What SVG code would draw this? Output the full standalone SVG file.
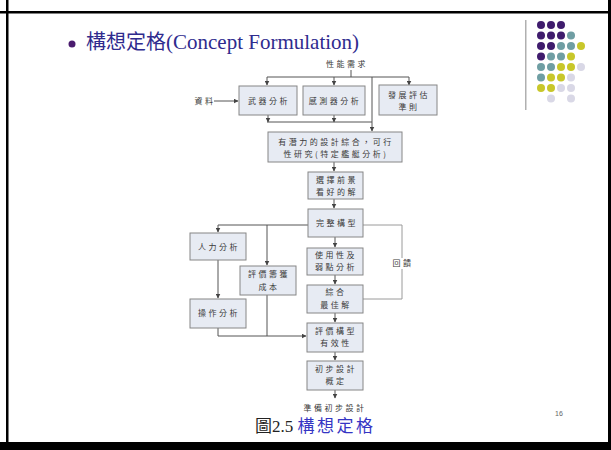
<svg xmlns="http://www.w3.org/2000/svg" width="611" height="450" viewBox="0 0 611 450">
<style>
.frame{fill:#000}
.b{fill:#e7ebf3;stroke:#868686;stroke-width:1}
.t{font-family:"Noto Sans CJK TC","Noto Sans CJK SC",sans-serif;font-size:8px;fill:#3a3a3a;text-anchor:middle;letter-spacing:2.5px}
.c{fill:none;stroke:#555;stroke-width:1}
.fb{fill:none;stroke:#9a9a9a;stroke-width:1}
.P{fill:#3f1c6d}.T{fill:#6f9ea3}.Y{fill:#c8c72a}.L{fill:#d9d8e6}
</style>
<defs>
<marker id="ar" markerWidth="5" markerHeight="5" refX="4.5" refY="2.5" orient="auto" markerUnits="userSpaceOnUse">
<path d="M0,0 L5,2.5 L0,5 Z" fill="#444"/>
</marker>
</defs>
<rect width="611" height="450" fill="#fff"/>
<!-- frame -->
<rect class="frame" x="0" y="11" width="611" height="2.5"/>
<rect class="frame" x="6" y="0" width="2.5" height="443"/>
<rect class="frame" x="608" y="0" width="3" height="443"/>
<rect class="frame" x="0" y="442" width="611" height="8"/>
<!-- title -->
<circle cx="72" cy="44" r="3.5" fill="#4a1b6e"/>
<text x="86" y="49" font-family="'Liberation Serif','Noto Sans CJK TC',serif" font-size="20" fill="#2f2b8e">構想定格<tspan font-size="21">(Concept Formulation)</tspan></text>
<!-- decoration -->
<rect x="525" y="20" width="1.5" height="90" fill="#b0b0b0"/>
<g id="dots">
<circle class="P" cx="541" cy="25" r="4"/><circle class="P" cx="551" cy="25" r="4"/><circle class="P" cx="561" cy="25" r="4"/>
<circle class="P" cx="541" cy="35.5" r="4"/><circle class="P" cx="551" cy="35.5" r="4"/><circle class="P" cx="561" cy="35.5" r="4"/><circle class="T" cx="571" cy="35.5" r="4"/>
<circle class="P" cx="541" cy="46" r="4"/><circle class="P" cx="551" cy="46" r="4"/><circle class="T" cx="561" cy="46" r="4"/><circle class="T" cx="571" cy="46" r="4"/><circle class="Y" cx="581" cy="46" r="4"/>
<circle class="P" cx="541" cy="56.5" r="4"/><circle class="T" cx="551" cy="56.5" r="4"/><circle class="T" cx="561" cy="56.5" r="4"/><circle class="Y" cx="571" cy="56.5" r="4"/>
<circle class="T" cx="541" cy="67" r="4"/><circle class="T" cx="551" cy="67" r="4"/><circle class="Y" cx="561" cy="67" r="4"/><circle class="Y" cx="571" cy="67" r="4"/><circle class="L" cx="581" cy="67" r="4"/>
<circle class="T" cx="541" cy="77.5" r="4"/><circle class="Y" cx="551" cy="77.5" r="4"/><circle class="Y" cx="561" cy="77.5" r="4"/><circle class="L" cx="571" cy="77.5" r="4"/>
<circle class="Y" cx="541" cy="88" r="4"/><circle class="Y" cx="551" cy="88" r="4"/><circle class="L" cx="561" cy="88" r="4"/><circle class="L" cx="571" cy="88" r="4"/>
<circle class="L" cx="551" cy="98.5" r="4"/><circle class="L" cx="571" cy="98.5" r="4"/>
</g>
<!-- connectors -->
<g id="connectors">
<path class="c" d="M351,70 V77 M267,77 H409"/>
<path class="c" d="M267,77 V85" marker-end="url(#ar)"/>
<path class="c" d="M334,77 V85" marker-end="url(#ar)"/>
<path class="c" d="M409,77 V85" marker-end="url(#ar)"/>
<path class="c" d="M372,77 V131" marker-end="url(#ar)"/>
<path class="c" d="M214,101 H238" marker-end="url(#ar)"/>
<path class="c" d="M268,115 V122" marker-end="url(#ar)"/>
<path class="c" d="M334,115 V122" marker-end="url(#ar)"/>
<path class="c" d="M267,122 H372"/>
<path class="c" d="M334,162 V171" marker-end="url(#ar)"/>
<path class="c" d="M334,199 V208" marker-end="url(#ar)"/>
<path class="c" d="M308,225 H218 V232" marker-end="url(#ar)"/>
<path class="c" d="M267,225 V265" marker-end="url(#ar)"/>
<path class="c" d="M218,260 V298" marker-end="url(#ar)"/>
<path class="c" d="M218,328 V336 H306" marker-end="url(#ar)"/>
<path class="c" d="M267,295 V336"/>
<path class="c" d="M335,237 V247" marker-end="url(#ar)"/>
<path class="c" d="M335,275 V284" marker-end="url(#ar)"/>
<path class="c" d="M335,313 V322" marker-end="url(#ar)"/>
<path class="c" d="M335,352 V360" marker-end="url(#ar)"/>
<path class="c" d="M335,390 V398" marker-end="url(#ar)"/>
<path class="fb" d="M363,299 H402 V225 H363"/>
</g>
<!-- nodes -->
<g id="n_perf"><text class="t" x="347" y="67">性能需求</text></g>
<g id="n_data"><text class="t" x="205" y="104">資料</text></g>
<g id="n_weapon"><rect class="b" x="239" y="86" width="58" height="29"/><text class="t" x="269" y="104">武器分析</text></g>
<g id="n_sensor"><rect class="b" x="303" y="86" width="62" height="29"/><text class="t" x="335" y="104">感測器分析</text></g>
<g id="n_criteria"><rect class="b" x="379" y="85" width="58" height="30"/><text class="t" x="409" y="98">發展評估</text><text class="t" x="409" y="110">準則</text></g>
<g id="n_synth"><rect class="b" x="268" y="132" width="134" height="30"/><text class="t" x="336" y="145">有潛力的設計綜合，可行</text><text class="t" x="336" y="157">性研究(特定艦艇分析)</text></g>
<g id="n_select"><rect class="b" x="308" y="172" width="55" height="27"/><text class="t" x="337" y="183">選擇前景</text><text class="t" x="337" y="195">看好的解</text></g>
<g id="n_full"><rect class="b" x="308" y="209" width="55" height="28"/><text class="t" x="337" y="226">完整構型</text></g>
<g id="n_man"><rect class="b" x="190" y="233" width="56" height="27"/><text class="t" x="219" y="250">人力分析</text></g>
<g id="n_cost"><rect class="b" x="240" y="266" width="56" height="29"/><text class="t" x="269" y="277">評價籌獲</text><text class="t" x="269" y="290">成本</text></g>
<g id="n_op"><rect class="b" x="190" y="299" width="56" height="29"/><text class="t" x="219" y="316">操作分析</text></g>
<g id="n_use"><rect class="b" x="307" y="248" width="56" height="27"/><text class="t" x="336" y="258">使用性及</text><text class="t" x="336" y="270">弱點分析</text></g>
<g id="n_best"><rect class="b" x="307" y="285" width="56" height="28"/><text class="t" x="336" y="295">綜合</text><text class="t" x="336" y="308">最佳解</text></g>
<g id="n_eval"><rect class="b" x="307" y="323" width="56" height="29"/><text class="t" x="336" y="334">評價構型</text><text class="t" x="336" y="346">有效性</text></g>
<g id="n_prelim"><rect class="b" x="307" y="361" width="56" height="29"/><text class="t" x="336" y="372">初步設計</text><text class="t" x="336" y="384">概定</text></g>
<g id="n_ready"><text class="t" x="335" y="411">準備初步設計</text></g>
<g id="n_feedback"><rect x="391" y="258" width="22" height="11" fill="#fff"/><text class="t" x="403" y="266">回饋</text></g>
<!-- caption -->
<text x="255" y="432" font-family="'Liberation Serif','Noto Sans CJK TC',serif" font-size="17" fill="#222">圖2.5 <tspan fill="#3535c4" letter-spacing="2.5">構想定格</tspan></text>
<text x="559" y="416" font-family="'Liberation Sans',sans-serif" font-size="7" fill="#666" text-anchor="middle">16</text>
</svg>
